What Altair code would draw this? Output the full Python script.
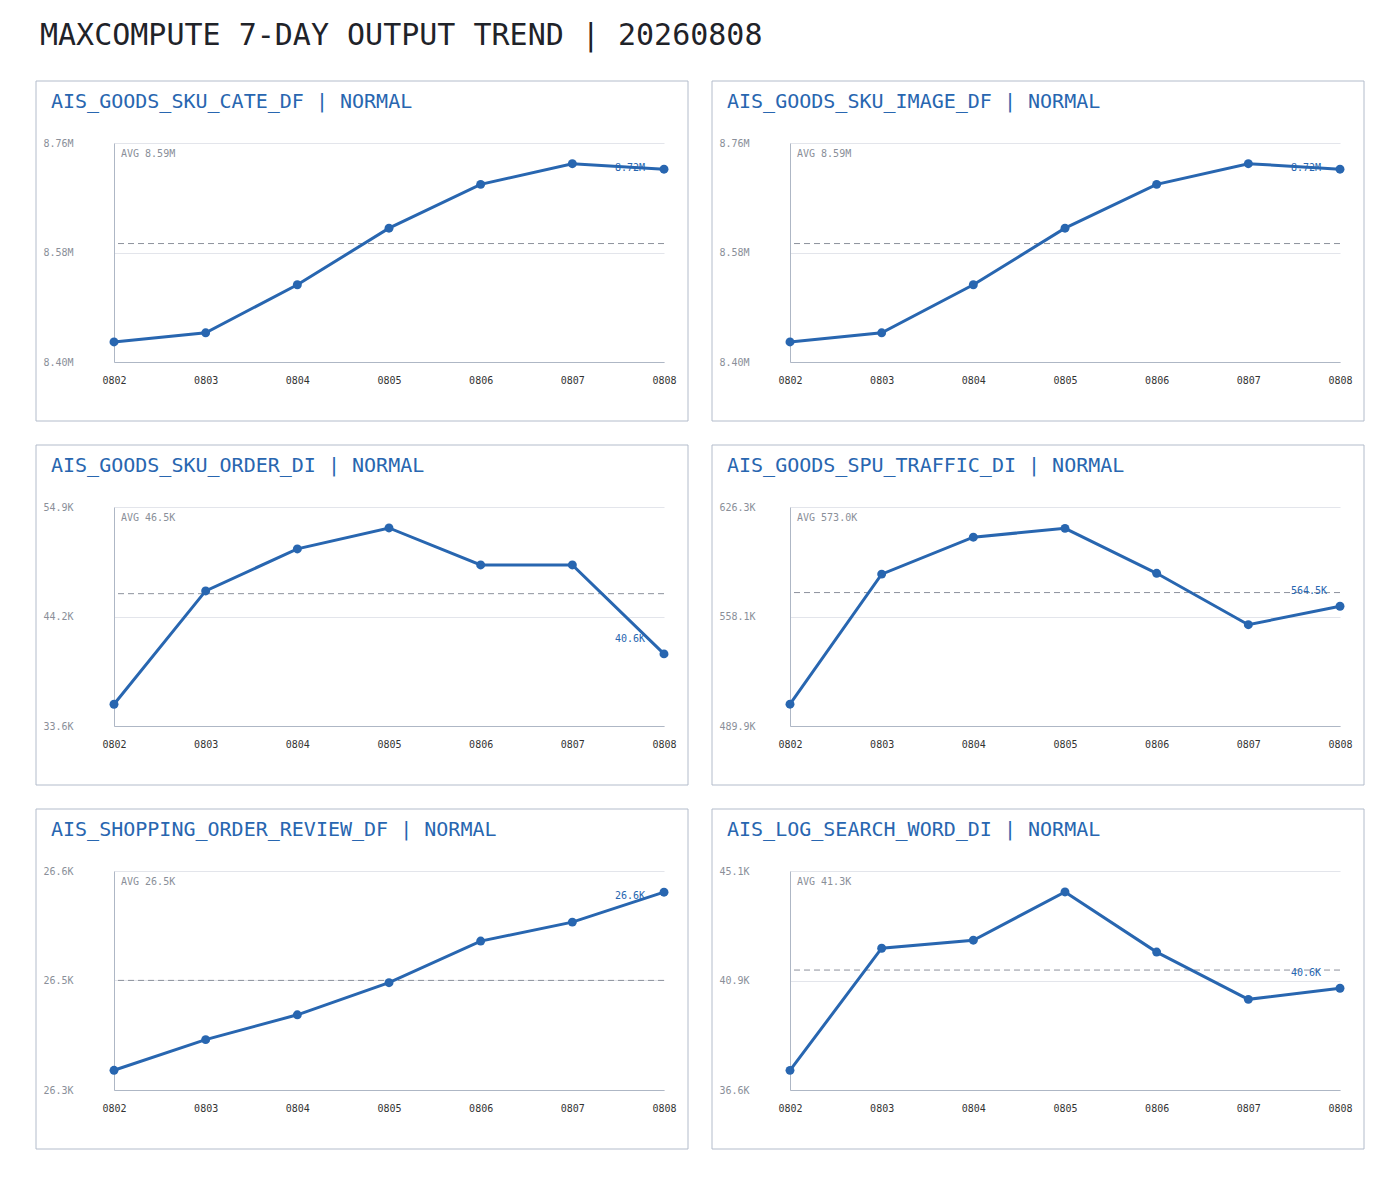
import altair as alt
import pandas as pd

days = ["0802", "0803", "0804", "0805", "0806", "0807", "0808"]

table_names = [
    "AIS_GOODS_SKU_CATE_DF",
    "AIS_GOODS_SKU_IMAGE_DF",
    "AIS_GOODS_SKU_ORDER_DI",
    "AIS_GOODS_SPU_TRAFFIC_DI",
    "AIS_SHOPPING_ORDER_REVIEW_DF",
    "AIS_LOG_SEARCH_WORD_DI",
]
statuses = ["NORMAL", "NORMAL", "NORMAL", "NORMAL", "NORMAL", "NORMAL"]

# daily output rows, in the unit the panel shows (M or K)
sku_cate_df = [8.433, 8.448, 8.527, 8.620, 8.692, 8.726, 8.717]
sku_image_df = [8.433, 8.448, 8.527, 8.620, 8.692, 8.726, 8.717]
sku_order_di = [35.7, 46.73, 50.82, 52.86, 49.26, 49.26, 40.6]
spu_traffic_di = [503.5, 584.5, 607.5, 613.0, 585.0, 553.0, 564.5]
order_review_df = [26.367, 26.409, 26.443, 26.487, 26.544, 26.570, 26.611]
search_word_di = [37.38, 42.11, 42.42, 44.29, 41.96, 40.13, 40.56]

series = [sku_cate_df, sku_image_df, sku_order_di, spu_traffic_di, order_review_df, search_word_di]
units = ["M", "M", "K", "K", "K", "K"]
y_low = [8.40, 8.40, 33.58, 489.9, 26.34, 36.62]
y_high = [8.76, 8.76, 54.9, 626.3, 26.64, 45.1]

W, H = 550, 219
BLUE = "#2866b0"
FONT = "DejaVu Sans Mono"


def panel(i, with_title=False):
    values = series[i]
    unit = units[i]
    dec = 2 if unit == "M" else 1
    lo, hi = y_low[i], y_high[i]
    avg = sum(values) / len(values)

    df = pd.DataFrame({"day": days, "value": values})
    # last value label sits 15px above the point, but never closer than 25px to the top
    last = pd.DataFrame({
        "day": [days[-1]],
        "label_y": [min(values[-1], hi - (hi - lo) * 40 / H)],
        "text": [f"{values[-1]:.{dec}f}{unit}"],
    })
    avg_df = pd.DataFrame({"avg": [avg], "text": [f"AVG {avg:.{dec}f}{unit}"]})
    one = pd.DataFrame({"k": [0]})

    xscale = alt.Scale(type="point", padding=0)
    yscale = alt.Scale(domain=[lo, hi], nice=False, zero=False)

    frame = alt.Chart(one).mark_rect(fill="transparent", stroke="#b3bccb", strokeWidth=1).encode(
        x=alt.value(-78), x2=alt.value(574), y=alt.value(-62), y2=alt.value(278)
    )
    head = alt.Chart(one).mark_text(
        text=f"{table_names[i]} | {statuses[i]}", align="left", baseline="middle",
        font=FONT, fontSize=20, color=BLUE,
    ).encode(x=alt.value(-63), y=alt.value(-41))

    base = alt.Chart(df).encode(
        x=alt.X(
            "day:O", scale=xscale, title=None,
            axis=alt.Axis(
                labelAngle=0, labelAlign="center", ticks=False, tickSize=0, labelPadding=18,
                labelBaseline="middle", labelFont=FONT, labelFontSize=10, labelColor="#333333",
                domainColor="#aeb7c5", grid=False,
            ),
        ),
        y=alt.Y(
            "value:Q", scale=yscale, title=None,
            axis=alt.Axis(
                values=[lo, (lo + hi) / 2, hi],
                labelExpr=f"format(datum.value, '.{dec}f') + '{unit}'",
                ticks=False, tickSize=0, labelAlign="left", labelPadding=71,
                labelFlush=False, labelFont=FONT, labelFontSize=10, labelColor="#8a8f99",
                domainColor="#aeb7c5", grid=True, gridColor="#e3e5eb",
            ),
        ),
    )
    line = base.mark_line(color=BLUE, strokeWidth=3)
    dots = base.mark_circle(color=BLUE, size=80, opacity=1)

    avg_rule = alt.Chart(avg_df).mark_rule(color="#8c919c", strokeDash=[6, 4], strokeWidth=1).encode(
        y=alt.Y("avg:Q", scale=yscale)
    )
    avg_text = alt.Chart(avg_df).mark_text(
        align="left", baseline="middle", font=FONT, fontSize=10, color="#8a8f99"
    ).encode(x=alt.value(7), y=alt.value(11), text="text:N")
    last_text = alt.Chart(last).mark_text(
        align="left", baseline="middle", dx=-49, dy=-15, font=FONT, fontSize=10, color=BLUE
    ).encode(x=alt.X("day:O", scale=xscale), y=alt.Y("label_y:Q", scale=yscale), text="text:N")

    layers = [frame, head, avg_rule, avg_text, last_text, line, dots]
    if with_title:
        layers.append(
            alt.Chart(one).mark_text(
                text="MAXCOMPUTE 7-DAY OUTPUT TREND | 20260808", align="left", baseline="middle",
                font=FONT, fontSize=30, color="#1f2329",
            ).encode(x=alt.value(-74), y=alt.value(-107))
        )
    return alt.layer(*layers).properties(width=W, height=H)


panels = [panel(i, with_title=(i == 0)) for i in range(6)]

chart = (
    alt.concat(*panels, columns=2, spacing={"row": 145, "column": 126}, bounds="flush")
    .properties(padding={"left": 27, "top": 12, "right": 5, "bottom": 5})
    .configure_view(stroke="transparent")
)

chart.save("out.html", embed_options={"renderer": "svg", "actions": False})
